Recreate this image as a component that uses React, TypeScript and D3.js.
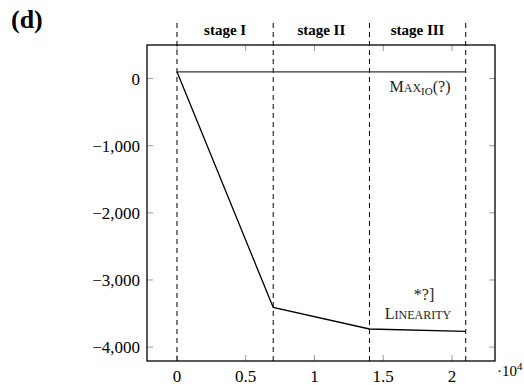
import React, { useEffect, useRef } from 'react';
import * as d3 from 'd3';

const W = 524;
const H = 385;
const BOX = { left: 147, right: 495, top: 45, bottom: 361 };
const FONT = '"Liberation Serif", "DejaVu Serif", serif';

const X_DOMAIN: [number, number] = [-0.218, 2.313];
const Y_DOMAIN: [number, number] = [-4207, 500];
const X_TICKS = [0, 0.5, 1, 1.5, 2];
const X_TICK_LABELS = ['0', '0.5', '1', '1.5', '2'];
const Y_TICKS = [0, -1000, -2000, -3000, -4000];
const Y_TICK_LABELS = ['0', '\u22121,000', '\u22122,000', '\u22123,000', '\u22124,000'];

const STAGE_BOUNDS = [0, 0.7, 1.4, 2.1];
const STAGE_LABELS = ['stage I', 'stage II', 'stage III'];

const MAXIO_X = [0, 2.1];
const MAXIO_Y = [100, 100];
const LIN_X = [0, 0.7, 1.4, 2.1];
const LIN_Y = [100, -3410, -3730, -3765];

const App: React.FC = () => {
  const svgRef = useRef<SVGSVGElement>(null);

  useEffect(() => {
    const svg = d3.select(svgRef.current);
    svg.selectAll('*').remove();

    const x = d3.scaleLinear().domain(X_DOMAIN).range([BOX.left, BOX.right]);
    const y = d3.scaleLinear().domain(Y_DOMAIN).range([BOX.bottom, BOX.top]);
    const TICK = 6;
    const TICK_COLOR = '#999';

    // Panel label
    svg.append('text')
      .attr('x', 11).attr('y', 28)
      .attr('font-family', FONT).attr('font-weight', 'bold').attr('font-size', 26)
      .text('(d)');

    // Ticks on all four sides, pointing inward
    X_TICKS.forEach((t, i) => {
      const tx = x(t);
      svg.append('line').attr('x1', tx).attr('x2', tx)
        .attr('y1', BOX.bottom).attr('y2', BOX.bottom - TICK)
        .attr('stroke', TICK_COLOR);
      svg.append('line').attr('x1', tx).attr('x2', tx)
        .attr('y1', BOX.top).attr('y2', BOX.top + TICK)
        .attr('stroke', TICK_COLOR);
      svg.append('text')
        .attr('x', tx).attr('y', BOX.bottom + 21)
        .attr('text-anchor', 'middle')
        .attr('font-family', FONT).attr('font-size', 17)
        .text(X_TICK_LABELS[i]);
    });

    Y_TICKS.forEach((t, i) => {
      const ty = y(t);
      svg.append('line').attr('x1', BOX.left).attr('x2', BOX.left + TICK)
        .attr('y1', ty).attr('y2', ty).attr('stroke', TICK_COLOR);
      svg.append('line').attr('x1', BOX.right).attr('x2', BOX.right - TICK)
        .attr('y1', ty).attr('y2', ty).attr('stroke', TICK_COLOR);
      svg.append('text')
        .attr('x', BOX.left - 7).attr('y', ty + 6)
        .attr('text-anchor', 'end')
        .attr('font-family', FONT).attr('font-size', 17)
        .text(Y_TICK_LABELS[i]);
    });

    // ·10^4 scale label
    const sc = svg.append('text')
      .attr('x', BOX.right + 2).attr('y', BOX.bottom + 15)
      .attr('font-family', FONT).attr('font-size', 15);
    sc.append('tspan').text('\u00B710');
    sc.append('tspan').attr('font-size', 11).attr('dy', -6).text('4');

    // Stage boundaries
    STAGE_BOUNDS.forEach(b => {
      svg.append('line')
        .attr('x1', x(b)).attr('x2', x(b))
        .attr('y1', 23).attr('y2', BOX.bottom)
        .attr('stroke', '#000').attr('stroke-width', 1)
        .attr('stroke-dasharray', '5,4');
    });

    STAGE_LABELS.forEach((s, i) => {
      svg.append('text')
        .attr('x', (x(STAGE_BOUNDS[i]) + x(STAGE_BOUNDS[i + 1])) / 2)
        .attr('y', 35)
        .attr('text-anchor', 'middle')
        .attr('font-family', FONT).attr('font-weight', 'bold').attr('font-size', 15)
        .text(s);
    });

    const lineGen = d3.line<[number, number]>().x(d => x(d[0])).y(d => y(d[1]));
    svg.append('path')
      .datum(MAXIO_X.map((v, i) => [v, MAXIO_Y[i]] as [number, number]))
      .attr('fill', 'none').attr('stroke', '#333').attr('stroke-width', 1.3)
      .attr('d', lineGen);
    svg.append('path')
      .datum(LIN_X.map((v, i) => [v, LIN_Y[i]] as [number, number]))
      .attr('fill', 'none').attr('stroke', '#000').attr('stroke-width', 1.3)
      .attr('d', lineGen);

    // Labels
    const m = svg.append('text')
      .attr('x', 420).attr('y', 92)
      .attr('text-anchor', 'middle')
      .attr('font-family', FONT).attr('font-size', 16).attr('fill', '#222');
    m.append('tspan').text('M');
    m.append('tspan').attr('font-size', 12).text('AX');
    m.append('tspan').attr('font-size', 11).attr('dy', 3).text('IO');
    m.append('tspan').attr('dy', -3).text('(?)');

    svg.append('text')
      .attr('x', 424).attr('y', 300)
      .attr('text-anchor', 'middle')
      .attr('font-family', FONT).attr('font-size', 16).attr('fill', '#222')
      .text('*?]');
    const l = svg.append('text')
      .attr('x', 418).attr('y', 319)
      .attr('text-anchor', 'middle')
      .attr('font-family', FONT).attr('font-size', 16).attr('fill', '#222');
    l.append('tspan').text('L');
    l.append('tspan').attr('font-size', 12).text('INEARITY');

    // Box
    svg.append('rect')
      .attr('x', BOX.left).attr('y', BOX.top)
      .attr('width', BOX.right - BOX.left).attr('height', BOX.bottom - BOX.top)
      .attr('fill', 'none').attr('stroke', '#000').attr('stroke-width', 1.3);
  }, []);

  return (
    <svg ref={svgRef} width={W} height={H}
      style={{ position: 'absolute', left: 0, top: 0, background: '#fff' }} />
  );
};

export default App;
